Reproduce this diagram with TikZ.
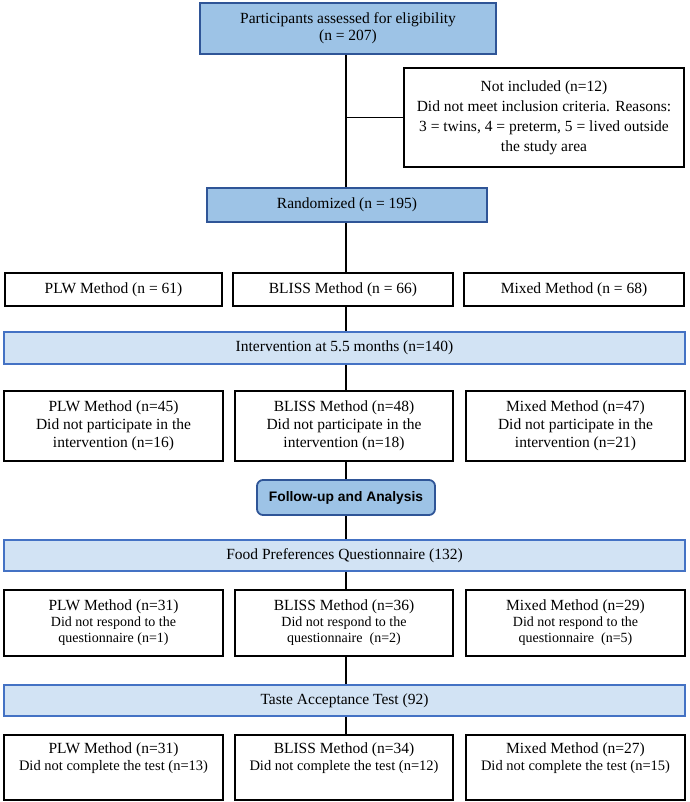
\documentclass[tikz,border=0pt]{standalone}
\usepackage{fontspec}
\setmainfont{Liberation Serif}
\newfontfamily\arialf{Liberation Sans}
\definecolor{medblue}{HTML}{9DC3E6}
\definecolor{dkblue}{HTML}{2F5597}
\definecolor{ltblue}{HTML}{D2E3F4}
\definecolor{barblue}{HTML}{4472C4}
\begin{document}
\begin{tikzpicture}[x=1pt,y=-1pt,
  base/.style={inner sep=0pt, align=center, font=\fontsize{15.5}{18}\selectfont},
  headbox/.style={base, draw=dkblue, fill=medblue, line width=1.8pt},
  barbox/.style={base, draw=barblue, fill=ltblue, line width=1.8pt, minimum width=681pt},
  whitebox/.style={base, draw=black, fill=white, line width=1.8pt},
  followbox/.style={base, draw=dkblue, fill=medblue, line width=1.8pt, rounded corners=6pt,
    font=\arialf\bfseries\fontsize{13.8}{16}\selectfont},
  conn/.style={draw=black, line width=1.1pt}]
\useasboundingbox (0,0) rectangle (689,802);
\coordinate (sp) at (346,0);

% top part
\node[headbox, minimum width=296pt, minimum height=51pt, font=\fontsize{15.5}{17}\selectfont] (top) at (348,28.5)
  {Participants assessed for eligibility\\(n = 207)};
\node[whitebox, minimum width=280pt, minimum height=99pt, font=\fontsize{15.5}{20}\selectfont] (notinc) at (544,117.5)
  {Not included (n=12)\\Did not meet inclusion criteria. Reasons:\\3 = twins, 4 = preterm, 5 = lived outside\\the study area};
\node[headbox, minimum width=280pt, minimum height=34pt] (rand) at (347,205) {Randomized (n = 195)};

% row 1
\node[whitebox, minimum width=217pt, minimum height=33pt] (a1) at (113.5,289.5) {PLW Method (n = 61)};
\node[whitebox, minimum width=220pt, minimum height=33pt] (b1) at (343,289.5) {BLISS Method (n = 66)};
\node[whitebox, minimum width=220pt, minimum height=33pt] (c1) at (574,289.5) {Mixed Method (n = 68)};

\node[barbox, minimum height=32pt] (interv) at (344.5,348) {Intervention at 5.5 months (n=140)};

% row 2
\node[whitebox, minimum width=219pt, minimum height=70pt] (a2) at (113.5,426)
  {PLW Method (n=45)\\Did not participate in the\\intervention (n=16)};
\node[whitebox, minimum width=218pt, minimum height=70pt] (b2) at (344,426)
  {BLISS Method (n=48)\\Did not participate in the\\intervention (n=18)};
\node[whitebox, minimum width=219pt, minimum height=70pt] (c2) at (575.5,426)
  {Mixed Method (n=47)\\Did not participate in the\\intervention (n=21)};

\node[followbox, minimum width=178pt, minimum height=35pt] (follow) at (346,497.5) {Follow-up and Analysis};

\node[barbox, minimum height=31pt] (food) at (344.5,555.5) {Food Preferences Questionnaire (132)};

% row 3
\node[whitebox, minimum width=219pt, minimum height=66pt, font=\fontsize{14}{16}\selectfont] (a3) at (113.5,623)
  {{\fontsize{15.5}{16}\selectfont PLW Method (n=31)}\\Did not respond to the\\questionnaire (n=1)};
\node[whitebox, minimum width=218pt, minimum height=66pt, font=\fontsize{14}{16}\selectfont] (b3) at (344,623)
  {{\fontsize{15.5}{16}\selectfont BLISS Method (n=36)}\\Did not respond to the\\questionnaire~ (n=2)};
\node[whitebox, minimum width=219pt, minimum height=66pt, font=\fontsize{14}{16}\selectfont] (c3) at (575.5,623)
  {{\fontsize{15.5}{16}\selectfont Mixed Method (n=29)}\\Did not respond to the\\questionnaire~ (n=5)};

\node[barbox, minimum height=31pt] (taste) at (344.5,700.5) {Taste Acceptance Test (92)};

% row 4
\node[whitebox, minimum width=219pt, minimum height=65pt, font=\fontsize{14.5}{16.5}\selectfont] (a4) at (113.5,767.5)
  {{\fontsize{15.5}{16.5}\selectfont PLW Method (n=31)}\\Did not complete the test (n=13)\\\strut};
\node[whitebox, minimum width=218pt, minimum height=65pt, font=\fontsize{14.5}{16.5}\selectfont] (b4) at (344,767.5)
  {{\fontsize{15.5}{16.5}\selectfont BLISS Method (n=34)}\\Did not complete the test (n=12)\\\strut};
\node[whitebox, minimum width=219pt, minimum height=65pt, font=\fontsize{14.5}{16.5}\selectfont] (c4) at (575.5,767.5)
  {{\fontsize{15.5}{16.5}\selectfont Mixed Method (n=27)}\\Did not complete the test (n=15)\\\strut};

% connectors
\draw[conn] (top.south -| sp) -- (rand.north -| sp);
\draw[conn] (notinc.west -| sp) -- (notinc.west);
\draw[conn] (rand.south -| sp) -- (b1.north -| sp);
\draw[conn] (b1.south -| sp) -- (interv.north -| sp);
\draw[conn] (interv.south -| sp) -- (b2.north -| sp);
\draw[conn] (b2.south -| sp) -- (follow.north -| sp);
\draw[conn] (follow.south -| sp) -- (food.north -| sp);
\draw[conn] (food.south -| sp) -- (b3.north -| sp);
\draw[conn] (b3.south -| sp) -- (taste.north -| sp);
\draw[conn] (taste.south -| sp) -- (b4.north -| sp);
\end{tikzpicture}
\end{document}
